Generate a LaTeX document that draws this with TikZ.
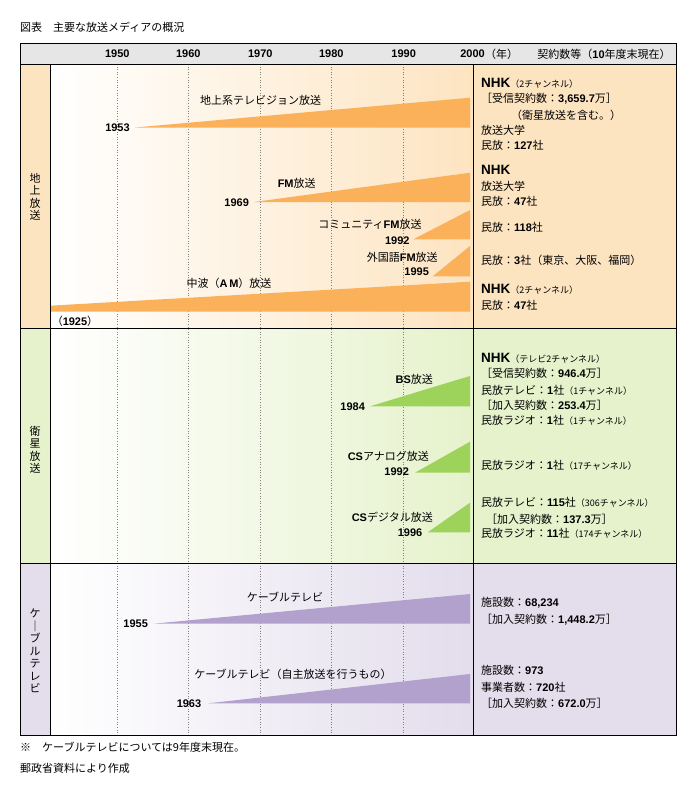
\documentclass[tikz,border=0pt]{standalone}
\usepackage{fontspec}
\setmainfont{Noto Sans CJK JP}
\newfontfamily\latinbold[BoldFont={Liberation Sans Bold}]{Liberation Sans}
\newcommand{\bnum}[1]{{\latinbold\bfseries #1}}
\newcommand{\smtxt}[1]{{\fontsize{9}{10}\selectfont #1}}
\newcommand{\bigNHK}{{\fontsize{13.5}{15}\selectfont\bnum{NHK}}}
\usepackage{xcolor}
\usepackage{tikz}

\definecolor{chiPeach}{HTML}{FDE4C1}
\definecolor{eiGreen}{HTML}{E6F2CC}
\definecolor{cabLav}{HTML}{E3DDEC}
\definecolor{chiBar}{HTML}{FBB159}
\definecolor{eiBar}{HTML}{9DD35A}
\definecolor{cabBar}{HTML}{B1A1CC}
\definecolor{headGray}{HTML}{E6E6E6}

\begin{document}
\begin{tikzpicture}[x=1pt, y=-1pt,
    every node/.style={inner sep=0pt, font=\fontsize{11}{13}\selectfont},
    info/.style={anchor=west},
    tate/.style={align=center, font=\fontsize{11}{12.5}\selectfont},
    grid/.style={gray, dotted, line width=0.6pt},
    rule/.style={line width=1pt}]
  \useasboundingbox (0,0) rectangle (697,793);

  \node[anchor=west] (title) at (20,27) {図表　主要な放送メディアの概況};

  % backgrounds
  \fill[headGray] (20,43) rectangle (676,64);
  \fill[chiPeach] (20,64) rectangle (50,328);
  \fill[eiGreen] (20,328) rectangle (50,563);
  \fill[cabLav] (20,563) rectangle (50,735);
  \shade[left color=white, right color=chiPeach] (50,64) rectangle (473,328);
  \shade[left color=white, right color=eiGreen] (50,328) rectangle (473,563);
  \shade[left color=white, right color=cabLav] (50,563) rectangle (473,735);
  \fill[chiPeach] (473,64) rectangle (676,328);
  \fill[eiGreen] (473,328) rectangle (676,563);
  \fill[cabLav] (473,563) rectangle (676,735);

  \foreach \x in {117.3,188.3,260.3,331.3,403.7}
    \draw[grid] (\x,64) -- (\x,735);

  % header
  \node (y1950) at (117.3,54) {\bnum{1950}};
  \node (y1960) at (188.3,54) {\bnum{1960}};
  \node (y1970) at (260.3,54) {\bnum{1970}};
  \node (y1980) at (331.3,54) {\bnum{1980}};
  \node (y1990) at (403.7,54) {\bnum{1990}};
  \node (y2000) at (472.5,54) {\bnum{2000}};
  \node[anchor=west] (nen) at (y2000.east) {（年）};
  \node (keiyaku) at (604,54) {契約数等（\bnum{10}年度末現在）};

  % terrestrial
  \fill[chiBar] (135,127.5) -- (470,97.7) -- (470,127.5) -- cycle;
  \fill[chiBar] (254,202) -- (470,172.7) -- (470,202) -- cycle;
  \fill[chiBar] (413.3,239.3) -- (470,210) -- (470,239.3) -- cycle;
  \fill[chiBar] (432.7,276.3) -- (470,246) -- (470,276.3) -- cycle;
  \fill[chiBar] (50,305.7) -- (470,281.7) -- (470,311.7) -- (50,311.7) -- cycle;

  \node (tvName) at (260.7,100) {地上系テレビジョン放送};
  \node (tvYear) at (117.5,127.5) {\bnum{1953}};
  \node (fmName) at (296.7,183.3) {\bnum{FM}放送};
  \node (fmYear) at (236.7,202.7) {\bnum{1969}};
  \node (comName) at (370,224) {コミュニティ\bnum{FM}放送};
  \node (comYear) at (397.3,240.7) {\bnum{1992}};
  \node (gaiName) at (402.3,257.7) {外国語\bnum{FM}放送};
  \node (gaiYear) at (416.7,272) {\bnum{1995}};
  \node (amName) at (229,283.3) {中波（\bnum{A\,M}）放送};
  \node (amYear) at (75,321) {（\bnum{1925}）};

  \node[info] (chiA) at (481,83.3) {\bigNHK\smtxt{（2チャンネル）}};
  \node[info] (chiB) at (481,98.3) {［受信契約数：\bnum{3,659.7}万］};
  \node[info] (chiC) at (511,115) {（衛星放送を含む。）};
  \node[info] (chiD) at (481,130) {放送大学};
  \node[info] (chiE) at (481,145.7) {民放：\bnum{127}社};
  \node[info] (chiF) at (481,170) {\bigNHK};
  \node[info] (chiG) at (481,186.7) {放送大学};
  \node[info] (chiH) at (481,201.7) {民放：\bnum{47}社};
  \node[info] (chiI) at (481,227.3) {民放：\bnum{118}社};
  \node[info] (chiJ) at (481,260) {民放：\bnum{3}社（東京、大阪、福岡）};
  \node[info] (chiK) at (481,289) {\bigNHK\smtxt{（2チャンネル）}};
  \node[info] (chiL) at (481,305) {民放：\bnum{47}社};

  % satellite
  \fill[eiBar] (370,406.3) -- (470,376) -- (470,406.3) -- cycle;
  \fill[eiBar] (415,472.7) -- (470,441.7) -- (470,472.7) -- cycle;
  \fill[eiBar] (427.7,532.3) -- (470,502.7) -- (470,532.3) -- cycle;

  \node (bsName) at (414.3,379) {\bnum{BS}放送};
  \node (bsYear) at (352.7,406.3) {\bnum{1984}};
  \node (csaName) at (388.3,456) {\bnum{CS}アナログ放送};
  \node (csaYear) at (396.7,472) {\bnum{1992}};
  \node (csdName) at (392.3,517.3) {\bnum{CS}デジタル放送};
  \node (csdYear) at (410,532.3) {\bnum{1996}};

  \node[info] (eiA) at (481,358.3) {\bigNHK\smtxt{（テレビ2チャンネル）}};
  \node[info] (eiB) at (481,373.3) {［受信契約数：\bnum{946.4}万］};
  \node[info] (eiC) at (481,390.7) {民放テレビ：\bnum{1}社\smtxt{（1チャンネル）}};
  \node[info] (eiD) at (481,405) {［加入契約数：\bnum{253.4}万］};
  \node[info] (eiE) at (481,420.7) {民放ラジオ：\bnum{1}社\smtxt{（1チャンネル）}};
  \node[info] (eiF) at (481,465) {民放ラジオ：\bnum{1}社\smtxt{（17チャンネル）}};
  \node[info] (eiG) at (481,502.7) {民放テレビ：\bnum{115}社\smtxt{（306チャンネル）}};
  \node[info] (eiH) at (486,519.3) {［加入契約数：\bnum{137.3}万］};
  \node[info] (eiI) at (481,533.3) {民放ラジオ：\bnum{11}社\smtxt{（174チャンネル）}};

  % cable
  \fill[cabBar] (153.3,623.7) -- (470,594) -- (470,623.7) -- cycle;
  \fill[cabBar] (208.3,703.3) -- (470,674) -- (470,703.3) -- cycle;

  \node (catvName) at (285,597.3) {ケーブルテレビ};
  \node (catvYear) at (135.7,624) {\bnum{1955}};
  \node (jishuName) at (293,674) {ケーブルテレビ（自主放送を行うもの）};
  \node (jishuYear) at (189,704) {\bnum{1963}};

  \node[info] (cabA) at (481,602.7) {施設数：\bnum{68,234}};
  \node[info] (cabB) at (481,619.3) {［加入契約数：\bnum{1,448.2}万］};
  \node[info] (cabC) at (481,670) {施設数：\bnum{973}};
  \node[info] (cabD) at (481,687.7) {事業者数：\bnum{720}社};
  \node[info] (cabE) at (481,703.3) {［加入契約数：\bnum{672.0}万］};

  % side labels
  \node[tate] (chijo) at (35,197) {地\\上\\放\\送};
  \node[tate] (eisei) at (35,450) {衛\\星\\放\\送};
  \node[tate] (cable) at (35,651) {ケ\\｜\\ブ\\ル\\テ\\レ\\ビ};

  % frame
  \draw[rule] (20,43) rectangle (676,735);
  \draw[rule] (20,64) -- (676,64);
  \draw[rule] (20,328) -- (676,328);
  \draw[rule] (20,563) -- (676,563);
  \draw[rule] (50,64) -- (50,735);
  \draw[rule] (473,64) -- (473,735);

  \node[anchor=west] (note) at (20,747) {※　ケーブルテレビについては9年度末現在。};
  \node[anchor=west] (source) at (20,768) {郵政省資料により作成};
\end{tikzpicture}
\end{document}
